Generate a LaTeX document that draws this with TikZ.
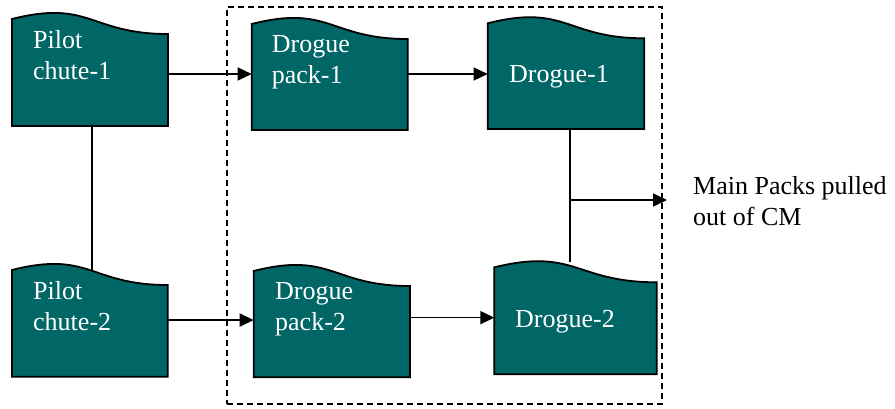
\documentclass[tikz,border=0pt]{standalone}
\usepackage{fontspec}
\setmainfont{Liberation Serif}
\newfontfamily\timesfam{Liberation Serif}
\usetikzlibrary{arrows.meta,calc}
\definecolor{tealfill}{HTML}{006666}
\newcommand\wavebox[5]{% name, x0, yb, w, h
  \node[boxarea, minimum width=#4, minimum height=#5] (#1) at (#2,#3) {};
  \filldraw[wave] (#1.south west) -- (#1.south east) -- ([yshift=-15]#1.north east)
    .. controls ([yshift=-15]#1.north) and ([yshift=19.8]#1.north) .. (#1.north west) -- cycle;
}
\begin{document}
\begin{tikzpicture}[x=1pt,y=1pt,
  boxarea/.style={inner sep=0pt, outer sep=0pt, anchor=south west, draw=none},
  wave/.style={fill=tealfill, draw=black, line width=1.8pt, line join=miter},
  lbl/.style={text=white, inner sep=0pt, font=\timesfam\fontsize{26}{30.5}\selectfont, align=left},
  conn/.style={line width=1.6pt},
  arr/.style={conn, -{Triangle[length=14pt,width=13pt]}},
  dashbox/.style={draw, dash pattern=on 6pt off 4pt, line width=1.8pt, inner sep=0pt, outer sep=0pt, anchor=south west}
]
\useasboundingbox (0,0) rectangle (895,408);
\node[dashbox, minimum width=435pt, minimum height=397pt] (grp) at (227,4) {};

\wavebox{p1}{12}{282}{156pt}{107pt}
\wavebox{dp1}{251.7}{278}{156pt}{106pt}
\wavebox{d1}{487.7}{279}{156.6pt}{105.7pt}
\wavebox{p2}{12}{31.3}{155.7pt}{106.7pt}
\wavebox{dp2}{253.7}{30.7}{156.3pt}{106.3pt}
\wavebox{d2}{494.3}{33.7}{162.4pt}{107pt}

\node[lbl, anchor=north west] (t1) at (33,377.6) {Pilot\\chute-1};
\node[lbl, anchor=north west] (t2) at (271.7,372.3) {Drogue\\pack-1};
\node[lbl, anchor=base west] (t3) at (509,326) {Drogue-1};
\node[lbl, anchor=north west] (t4) at (33,126.3) {Pilot\\chute-2};
\node[lbl, anchor=north west] (t5) at (275,125.6) {Drogue\\pack-2};
\node[lbl, anchor=base west] (t6) at (515,81) {Drogue-2};
\node[lbl, text=black, anchor=north west] (t7) at (693,231.6) {Main Packs pulled\\out of CM};

\draw[arr] ([yshift=-1.5]p1.east) -- ([yshift=-1.5]p1.east -| dp1.west);
\draw[arr] ([yshift=3]dp1.east) -- ([yshift=3]dp1.east -| d1.west);
\draw[conn] ($(p1.south)+(2,0)$) -- ($(p1.south |- p2.north)+(2,0)$);
\draw[arr] ([yshift=3.3]p2.east) -- ([yshift=3.3]p2.east -| dp2.west);
\draw[arr] ([yshift=6.5]dp2.east) -- ([yshift=6.5]dp2.east -| d2.west);
\draw[conn] ($(d1.south)+(4,0)$) -- ($(d1.south |- d2.north)+(4,5)$);
\coordinate (tip) at (667,208);
\coordinate (j) at ($(d1.south |- tip)+(4,0)$);
\draw[arr] (j) -- (tip);
\end{tikzpicture}
\end{document}
